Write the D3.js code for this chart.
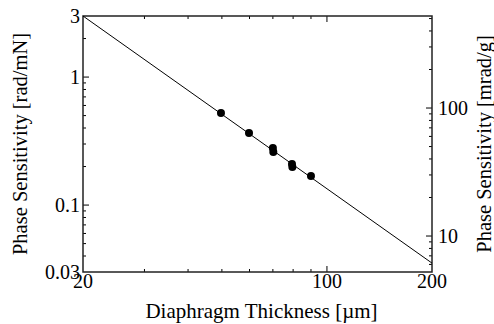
<!DOCTYPE html>
<html>
<head>
<meta charset="utf-8">
<script src="https://cdn.jsdelivr.net/npm/d3@7"></script>
<style>
  body { margin: 0; background: #fff; }
  text { font-family: "Liberation Serif", "Times New Roman", serif; fill: #000; }
</style>
</head>
<body>
<svg id="chart" width="494" height="324"></svg>
<script>
// measured points
const thickness = [49.7, 59.8, 70, 70.2, 79.4, 79.6, 90]
const sensitivity = [0.524, 0.366, 0.279, 0.26, 0.209, 0.198, 0.169]

// fitted line end points
const fitThickness = [20, 200]
const fitSensitivity = [3, 0.0352]

const xTickLabels = [20, 100, 200]
const yTickLabels = [0.03, 0.1, 1, 3]
const y2TickLabels = [10, 100]
const mradPerRadMN = 174.5 // right axis conversion

const margin = { top: 16, right: 62, bottom: 52, left: 83 }
const width = 494
const height = 324
const w = width - margin.left - margin.right
const h = height - margin.top - margin.bottom

const svg = d3.select('#chart')
const g = svg.append('g').attr('transform', 'translate(' + margin.left + ',' + margin.top + ')')

const x = d3.scaleLog().domain([20, 200]).range([0, w])
const y = d3.scaleLog().domain([0.03, 3]).range([h, 0])
const y2 = d3.scaleLog().domain([0.03 * mradPerRadMN, 3 * mradPerRadMN]).range([h, 0])

// log minor ticks inside a domain
const minorTicks = (scale) => {
  const [a, b] = scale.domain()
  const out = []
  for (let e = Math.floor(Math.log10(a)); e <= Math.ceil(Math.log10(b)); e++) {
    for (let m = 1; m < 10; m++) {
      const v = m * Math.pow(10, e)
      if (v > a * 1.0001 && v < b * 0.9999) out.push({ v: v, major: m === 1 })
    }
  }
  return out
}

const tickLine = (sel, x1, y1, x2, y2v) =>
  sel.append('line').attr('x1', x1).attr('y1', y1).attr('x2', x2).attr('y2', y2v)
    .attr('stroke', '#000').attr('stroke-width', 1)

const ticks = g.append('g')
minorTicks(x).forEach(t => {
  const len = t.major ? 6 : 3
  tickLine(ticks, x(t.v), h, x(t.v), h - len)
  tickLine(ticks, x(t.v), 0, x(t.v), len)
})
minorTicks(y).forEach(t => {
  const len = t.major ? 6 : 3
  tickLine(ticks, 0, y(t.v), len, y(t.v))
})
minorTicks(y2).forEach(t => {
  const len = t.major ? 6 : 3
  tickLine(ticks, w, y2(t.v), w - len, y2(t.v))
})

// frame
g.append('rect').attr('width', w).attr('height', h)
  .attr('fill', 'none').attr('stroke', '#222').attr('stroke-width', 1.5)

// fit line
const fit = fitThickness.map((d, i) => [d, fitSensitivity[i]])
g.append('path')
  .datum(fit)
  .attr('fill', 'none')
  .attr('stroke', '#000')
  .attr('stroke-width', 1)
  .attr('d', d3.line().x(d => x(d[0])).y(d => y(d[1])))

// data points
g.selectAll('.dot')
  .data(thickness.map((d, i) => [d, sensitivity[i]]))
  .enter()
  .append('circle')
  .attr('class', 'dot')
  .attr('cx', d => x(d[0]))
  .attr('cy', d => y(d[1]))
  .attr('r', 4)
  .attr('fill', '#000')

// tick labels
g.selectAll('.xl').data(xTickLabels).enter().append('text')
  .attr('x', d => x(d)).attr('y', h + 16)
  .attr('text-anchor', 'middle').attr('font-size', 20)
  .text(d => d)

g.selectAll('.yl').data(yTickLabels).enter().append('text')
  .attr('x', -3).attr('y', d => y(d) + 7)
  .attr('text-anchor', 'end').attr('font-size', 20)
  .text(d => d)

g.selectAll('.y2l').data(y2TickLabels).enter().append('text')
  .attr('x', w + 6).attr('y', d => y2(d) + 7)
  .attr('text-anchor', 'start').attr('font-size', 20)
  .text(d => d)

// axis titles
svg.append('text')
  .attr('x', margin.left + w / 2 + 4).attr('y', 318)
  .attr('text-anchor', 'middle').attr('font-size', 21)
  .text('Diaphragm Thickness [\u00b5m]')

svg.append('text')
  .attr('transform', 'translate(27,' + (margin.top + h / 2) + ') rotate(-90)')
  .attr('text-anchor', 'middle').attr('font-size', 20.5)
  .text('Phase Sensitivity [rad/mN]')

svg.append('text')
  .attr('transform', 'translate(491,' + (margin.top + h / 2) + ') rotate(-90)')
  .attr('text-anchor', 'middle').attr('font-size', 20.5)
  .text('Phase Sensitivity [mrad/g]')
</script>
</body>
</html>
